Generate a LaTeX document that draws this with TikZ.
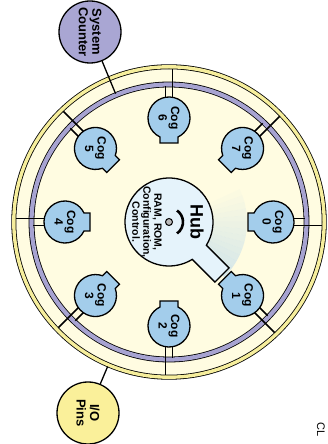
\documentclass[tikz,border=0pt]{standalone}
\usepackage{fontspec}
\setmainfont{Liberation Sans}
\usetikzlibrary{calc, positioning}
\definecolor{creambg}{HTML}{FFFCE1}
\definecolor{ringyellow}{HTML}{F6EE9C}
\definecolor{ringpurple}{HTML}{A7A3D1}
\definecolor{cogblue}{HTML}{A3CDEB}
\definecolor{hubblue}{HTML}{E5F3FB}
\definecolor{fanblue}{HTML}{B9D9EF}
\definecolor{counterpurple}{HTML}{A9A6D3}
\definecolor{ioyellow}{HTML}{FAF09A}

\begin{document}
\begin{tikzpicture}[x=1pt, y=1pt,
    cogbody/.style={draw=black, line width=1.3pt, fill=cogblue},
    coglabel/.style={rotate=-90, align=center, inner sep=0pt, font=\fontsize{12}{12.5}\selectfont\bfseries},
    bus/.style={draw=black, line width=1.6pt},
    extunit/.style={circle, draw=black, line width=1.3pt, minimum size=62pt, inner sep=0pt, align=center, rotate=-90, font=\fontsize{13}{13.5}\selectfont\bfseries},
    link/.style={draw=black, line width=1.3pt}]

    \useasboundingbox (0,0) rectangle (328,444);
    \coordinate (c) at (169,222);

    % Rings
    \fill[creambg] (c) circle (153);
    \draw[line width=0.8pt, double=ringyellow, double distance=3.4pt] (c) circle (155.2);
    \draw[line width=0.8pt, double=ringpurple, double distance=4.2pt] (c) circle (137.5);

    % Fan of the hub
    \foreach \k [evaluate=\k as \op using 0.6*(1-\k/14)] in {0,...,13}
        \fill[fanblue, opacity=\op] (c) -- ([shift={(-45+5*\k:78)}]c) arc[start angle=-45+5*\k, end angle=-40+5*\k, radius=78] -- cycle;

    % Cogs
    \foreach \i in {0,...,7}{
        \begin{scope}[shift={(c)}, rotate=-45*\i, shift={(104,0)}]
            \coordinate (cog\i-l) at (19,3.5);
            \coordinate (cog\i-r) at (19,-3.5);
            \coordinate (ring\i-l) at (32,3.5);
            \coordinate (ring\i-r) at (49,-3.5);
        \end{scope}
        \draw[bus] (cog\i-l) -- (ring\i-l);
        \draw[bus] (cog\i-r) -- (ring\i-r);
        \draw[cogbody, shift={(c)}, rotate=-45*\i, shift={(104,0)}] (-18.97,9) arc[start angle=154.63, end angle=-154.63, radius=21] -- (-25,-9) -- (-25,9) -- cycle;
        \node[coglabel] (cog\i) at ([shift={(-45*\i:104)}]c) {Cog\\\i};
    }

    % Hub
    \begin{scope}[shift={(c)}, rotate=-45]
        \draw[fill=hubblue, line width=1.3pt] (42.85,10) arc[start angle=13.13, end angle=346.87, radius=44] -- (75,-10) -- (75,10) -- cycle;
    \end{scope}
    \draw[fill=gray!55, line width=1pt] (c) circle (3.5);
    \draw[line width=2.6pt] ([shift={(-55:14)}]c) arc[start angle=-55, end angle=55, radius=14];
    \node[rotate=-90, inner sep=0pt, font=\fontsize{18}{20}\selectfont\bfseries] (hub) at ([xshift=28pt]c) {Hub};
    \node[rotate=-90, inner sep=0pt, align=center, font=\fontsize{10.5}{11}\selectfont\bfseries] (hubinfo) at ([xshift=-22pt]c) {RAM, ROM,\\Configuration,\\Control.};

    % Outside units
    \node[extunit, fill=counterpurple] (counter) at (90,412) {System\\Counter};
    \node[extunit, fill=ioyellow] (io) at (88,31) {I/O\\Pins};
    \coordinate (counterjoin) at ([shift={(112.6:139)}]c);
    \coordinate (iojoin) at ([shift={(247:157)}]c);
    \draw[link] (counter) -- (counterjoin);
    \draw[link] (io) -- (iojoin);

    \node[rotate=-90, inner sep=0pt, font=\fontsize{11}{12}\selectfont] (clk) at (321,14) {CL};

\end{tikzpicture}
\end{document}
